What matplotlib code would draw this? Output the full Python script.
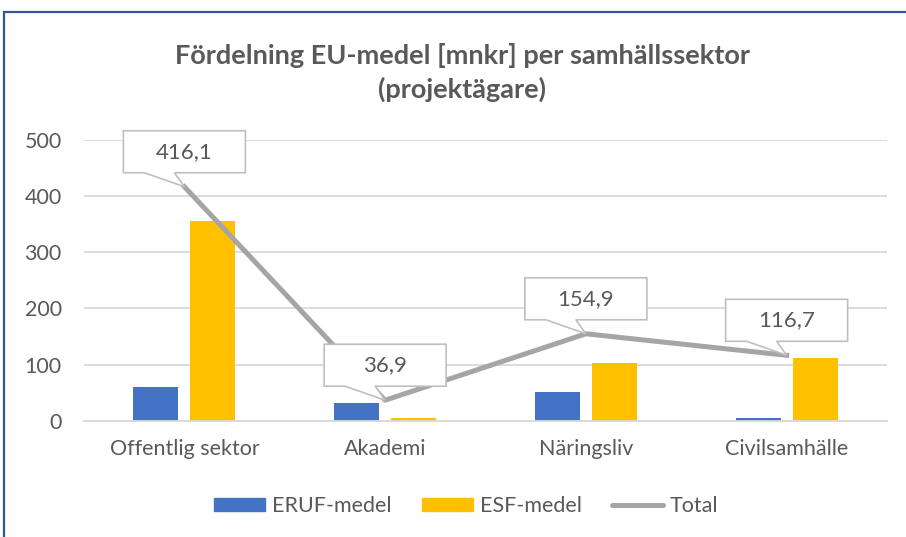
import numpy as np
import matplotlib
matplotlib.use("Agg")
import matplotlib.pyplot as plt
import matplotlib.transforms as mtransforms
from matplotlib.patches import Polygon, Rectangle, Patch
from matplotlib.lines import Line2D

plt.rcParams['font.family'] = ['Lato', 'DejaVu Sans']

categories = ["Offentlig sektor", "Akademi", "Näringsliv", "Civilsamhälle"]
eruf = [61.0, 32.0, 52.0, 5.0]
esf = [355.1, 4.9, 102.9, 111.7]
total = [416.1, 36.9, 154.9, 116.7]
total_labels = ["416,1", "36,9", "154,9", "116,7"]

text_col = "#595959"
blue = "#4472C4"
yellow = "#FFC000"
gray = "#A5A5A5"

W, H = 906, 537
fig = plt.figure(figsize=(W / 100, H / 100), dpi=100)
ax = fig.add_axes([84 / W, 1 - 421 / H, (887 - 84) / W, (421 - 139.5) / H])

# outer chart frame (cut off at right/bottom like the original)
fig.patches.append(Rectangle((4 / W, -0.05), 1.2, 1 - 12 / H + 0.05,
                             transform=fig.transFigure, fill=False,
                             edgecolor="#2F5597", linewidth=1.6))

x = np.arange(len(categories))
bw = 0.224
off = 0.142
ax.bar(x - off, eruf, bw, color=blue, zorder=2)
ax.bar(x + off, esf, bw, color=yellow, zorder=2)
ax.plot(x, total, color=gray, lw=3.6, zorder=3, solid_joinstyle="round")

ax.set_xlim(-0.5, 3.5)
ax.set_ylim(0, 500)
ax.set_yticks(range(0, 501, 100))
ax.yaxis.grid(True, color="#D9D9D9", lw=1.3, zorder=0)
ax.set_axisbelow(True)
for s in ["top", "right", "left"]:
    ax.spines[s].set_visible(False)
ax.spines["bottom"].set_color("#D9D9D9")
ax.spines["bottom"].set_linewidth(1.3)
ax.set_xticks(x)
ax.set_xticklabels(categories)
ax.tick_params(axis="both", length=0, labelsize=15.5, labelcolor=text_col)
ax.tick_params(axis="y", pad=16)
ax.tick_params(axis="x", pad=13)

# callout boxes for the totals (shape in pixel offsets from the point)
shape = [(0, 0), (-10, 14), (61, 14), (61, 56), (-61, 56), (-61, 14), (-40, 14)]
for xi, yi, lab in zip(x, total, total_labels):
    tr = mtransforms.Affine2D() + mtransforms.ScaledTranslation(xi, yi, ax.transData)
    ax.add_patch(Polygon(shape, closed=True, transform=tr, facecolor="white",
                         edgecolor="#BFBFBF", lw=1.2, zorder=4, clip_on=False))
    ax.annotate(lab, (xi, yi), xytext=(0, 35 * 0.72), textcoords="offset points",
                ha="center", va="center", fontsize=16, color=text_col, zorder=5,
                annotation_clip=False)

fig.text(462 / W, 1 - 55 / H, "Fördelning EU-medel [mnkr] per samhällssektor",
         ha="center", va="center", fontsize=19.5, fontweight="bold", color=text_col)
fig.text(462 / W, 1 - 89 / H, "(projektägare)",
         ha="center", va="center", fontsize=19.5, fontweight="bold", color=text_col)

handles = [Patch(color=blue, label="ERUF-medel"),
           Patch(color=yellow, label="ESF-medel"),
           Line2D([], [], color=gray, lw=3.6, label="Total", solid_capstyle="round")]
leg = fig.legend(handles=handles, loc="center", bbox_to_anchor=(466 / W, 1 - 506 / H),
                 ncol=3, frameon=False, fontsize=15.5, handlelength=2.4,
                 handleheight=0.55, handletextpad=0.3, columnspacing=1.4)
for t in leg.get_texts():
    t.set_color(text_col)

fig.savefig("out.png", dpi=100)
